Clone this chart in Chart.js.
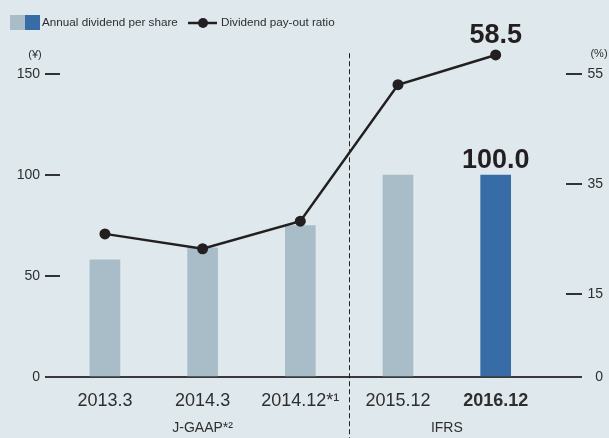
<!DOCTYPE html>
<html>
<head>
<meta charset="utf-8">
<script src="https://cdn.jsdelivr.net/npm/chart.js@4.4.1/dist/chart.umd.min.js"></script>
<style>
  html, body { margin: 0; padding: 0; background: #dfe9ed; }
  #wrap { width: 609px; height: 438px; }
</style>
</head>
<body>
<div id="wrap"><canvas id="chart" width="609" height="438"></canvas></div>
<script>
// values
var YEARS = ["2013.3", "2014.3", "2014.12*\u00b9", "2015.12", "2016.12"];
var DIVIDEND = [58, 64, 75, 100, 100];          // yen per share
var PAYOUT = [26.0, 23.3, 28.3, 53.1, 58.5];    // %
var LEFT_TICKS = [0, 50, 100, 150];
var RIGHT_TICKS = [0, 15, 35, 55];
var GROUPS = [
  { label: "J-GAAP*\u00b2", from: 0, to: 2 },
  { label: "IFRS", from: 3, to: 4 },
];
var HIGHLIGHT = 4; // latest year gets the dark bar, bold label and callouts

// axes run a bit past the top tick so the 58.5 point stays inside the plot
var LEFT_MAX = 163;
var RIGHT_MAX = LEFT_MAX * 55 / 150;

var FONT = "'Liberation Sans', Arial, sans-serif";
var INK = "#231f20";
var TEXT = "#2e2e2e";
var LIGHT = "#a8bdc8";
var DARK = "#386ca6";
var BG = "#dfe9ed";

function setTicks(list) {
  return function (scale) {
    scale.ticks = list.map(function (v) { return { value: v }; });
  };
}

var decor = {
  id: "decor",
  beforeDraw: function (chart) {
    var c = chart.ctx;
    c.save();
    c.fillStyle = BG;
    c.fillRect(0, 0, chart.width, chart.height);
    c.restore();
  },
  beforeDatasetsDraw: function (chart) {
    var c = chart.ctx, a = chart.chartArea, x = chart.scales.x, y = chart.scales.y;
    c.save();
    // baseline runs under both tick columns
    c.strokeStyle = "#3a3a3a";
    c.lineWidth = 2;
    c.beginPath();
    c.moveTo(a.left - 15, y.getPixelForValue(0));
    c.lineTo(a.right + 16, y.getPixelForValue(0));
    c.stroke();
    // J-GAAP / IFRS divider
    var dx = Math.round((x.getPixelForValue(GROUPS[0].to) + x.getPixelForValue(GROUPS[1].from)) / 2) + 0.5;
    c.strokeStyle = INK;
    c.lineWidth = 1;
    c.setLineDash([5, 3]);
    c.beginPath();
    c.moveTo(dx, y.getPixelForValue(150) - 21);
    c.lineTo(dx, chart.height);
    c.stroke();
    c.restore();
  },
  afterDraw: function (chart) {
    var c = chart.ctx, x = chart.scales.x, y = chart.scales.y, y1 = chart.scales.y1;
    c.save();

    // legend
    c.fillStyle = LIGHT;
    c.fillRect(10, 15, 15, 15);
    c.fillStyle = DARK;
    c.fillRect(25, 15, 15, 15);
    c.fillStyle = TEXT;
    c.font = "11.7px " + FONT;
    c.textAlign = "left";
    c.textBaseline = "middle";
    c.fillText("Annual dividend per share", 42, 23);
    c.strokeStyle = INK;
    c.lineWidth = 2.5;
    c.beginPath();
    c.moveTo(188, 23);
    c.lineTo(217, 23);
    c.stroke();
    c.fillStyle = INK;
    c.beginPath();
    c.arc(203, 23, 5, 0, Math.PI * 2);
    c.fill();
    c.fillStyle = TEXT;
    c.fillText("Dividend pay-out ratio", 221, 23);

    // units
    c.font = "11px " + FONT;
    c.textAlign = "center";
    c.fillText("(\u00a5)", 35, 55);
    c.fillText("(%)", 599, 54);

    // group captions
    c.font = "14px " + FONT;
    GROUPS.forEach(function (g) {
      var gx = (x.getPixelForValue(g.from) + x.getPixelForValue(g.to)) / 2;
      c.fillText(g.label, gx, 428);
    });

    // callouts for the latest year
    var px = x.getPixelForValue(HIGHLIGHT);
    c.fillStyle = INK;
    c.font = "bold 27px " + FONT;
    c.textBaseline = "alphabetic";
    c.fillText(PAYOUT[HIGHLIGHT].toFixed(1), px, y1.getPixelForValue(PAYOUT[HIGHLIGHT]) - 12);
    c.fillText(DIVIDEND[HIGHLIGHT].toFixed(1), px, y.getPixelForValue(DIVIDEND[HIGHLIGHT]) - 7);
    c.restore();
  },
};

new Chart(document.getElementById("chart"), {
  type: "bar",
  data: {
    datasets: [
      {
        type: "line",
        label: "Dividend pay-out ratio",
        data: PAYOUT.map(function (v, i) { return { x: i, y: v }; }),
        yAxisID: "y1",
        borderColor: INK,
        borderWidth: 2.5,
        pointRadius: 5.5,
        pointBackgroundColor: INK,
        pointBorderWidth: 0,
        tension: 0,
        order: 0,
      },
      {
        label: "Annual dividend per share",
        data: DIVIDEND.map(function (v, i) { return { x: i, y: v }; }),
        yAxisID: "y",
        barThickness: 30,
        backgroundColor: function (ctx) { return ctx.dataIndex === HIGHLIGHT ? DARK : LIGHT; },
        order: 1,
      },
    ],
  },
  options: {
    responsive: false,
    animation: false,
    devicePixelRatio: 1,
    layout: { padding: { top: 48, left: 0, right: 6, bottom: 0 } },
    plugins: { legend: { display: false }, tooltip: { enabled: false } },
    scales: {
      x: {
        type: "linear",
        offset: false,
        min: -0.46,
        max: 4.72,
        afterBuildTicks: setTicks(YEARS.map(function (_, i) { return i; })),
        afterFit: function (s) { s.height = 61; },
        grid: { display: false },
        border: { display: false },
        ticks: {
          padding: 5,
          maxRotation: 0,
          autoSkip: false,
          color: TEXT,
          callback: function (v) { return YEARS[v]; },
          font: function (ctx) {
            var bold = ctx.tick && ctx.tick.value === HIGHLIGHT;
            return { family: FONT, size: 18, weight: bold ? "bold" : "normal" };
          },
        },
      },
      y: {
        position: "left",
        min: 0,
        max: LEFT_MAX,
        afterBuildTicks: setTicks(LEFT_TICKS),
        afterFit: function (s) { s.width = 60; },
        grid: { drawOnChartArea: false, tickLength: 15, color: "#333", lineWidth: 2 },
        border: { display: false },
        ticks: { padding: 5, color: TEXT, font: { family: FONT, size: 14 } },
      },
      y1: {
        position: "right",
        min: 0,
        max: RIGHT_MAX,
        afterBuildTicks: setTicks(RIGHT_TICKS),
        afterFit: function (s) { s.width = 37; },
        grid: { drawOnChartArea: false, tickLength: 16, color: "#333", lineWidth: 2 },
        border: { display: false },
        ticks: { padding: 6, crossAlign: "far", color: TEXT, font: { family: FONT, size: 14 } },
      },
    },
  },
  plugins: [decor],
});
</script>
</body>
</html>
